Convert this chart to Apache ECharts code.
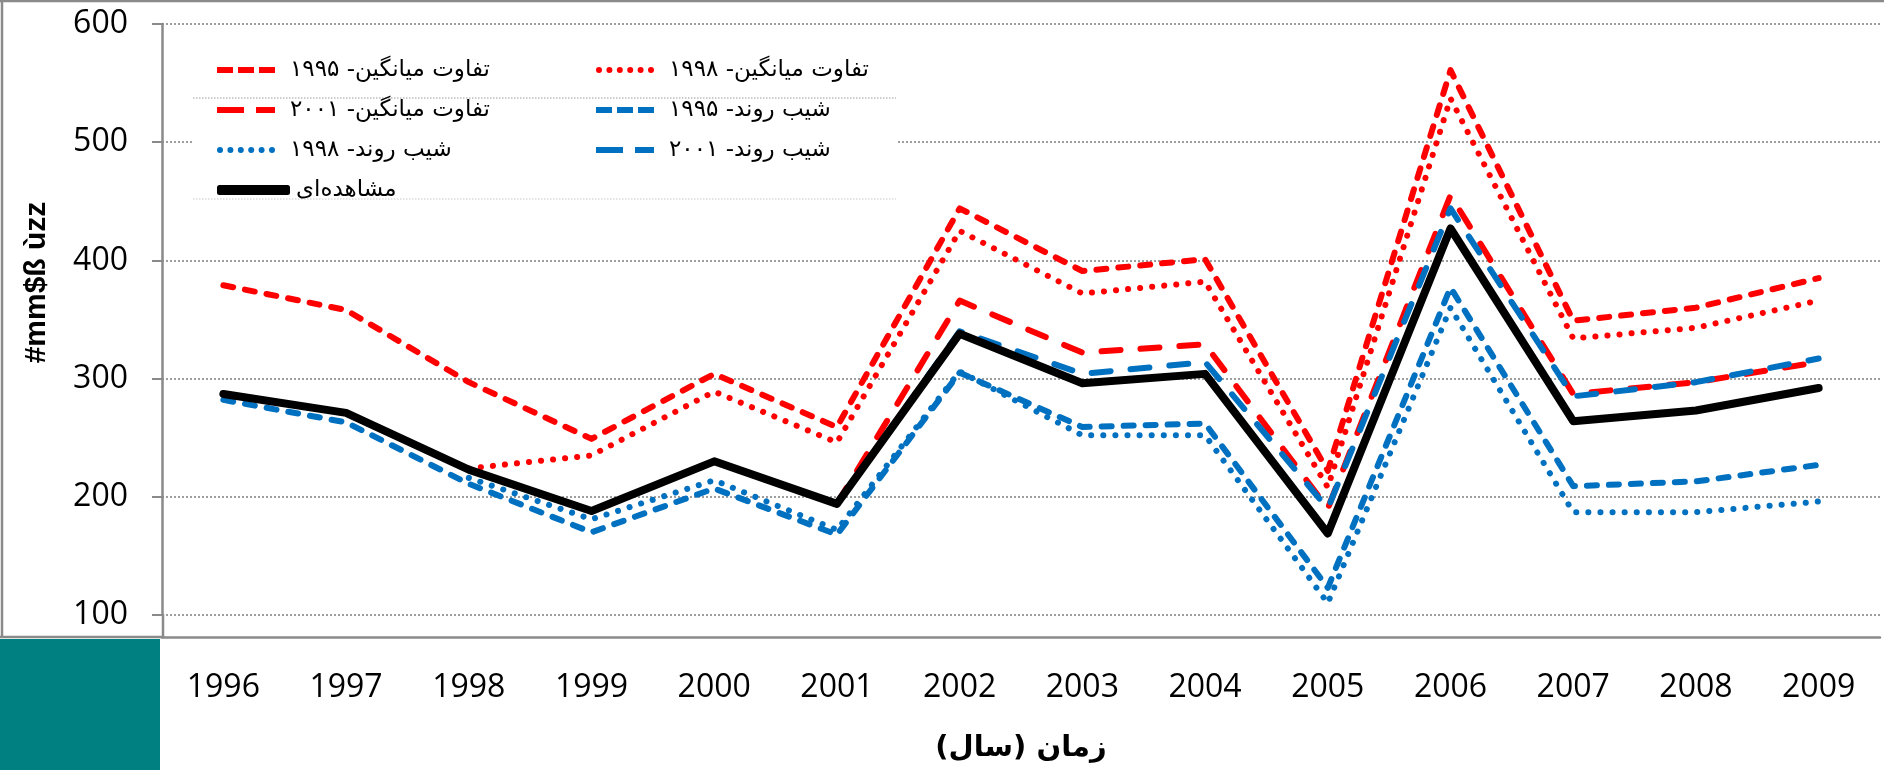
<!DOCTYPE html>
<html>
<head>
<meta charset="utf-8">
<script src="https://cdn.jsdelivr.net/npm/echarts@6/dist/echarts.min.js"></script>
<style>
  html, body { margin: 0; padding: 0; background: #fff; }
  #chart { width: 1884px; height: 770px; }
</style>
</head>
<body>
<div id="chart"></div>
<script>
// categories and series values
const years = ['1996', '1997', '1998', '1999', '2000', '2001', '2002', '2003', '2004', '2005', '2006', '2007', '2008', '2009']
const observed     = [287, 271, 223, 188, 230, 194, 338, 296, 304, 169, 427, 264, 273, 292]
const meanDiff1995 = [379, 358, 297, 249, 304, 259, 444, 391, 401, 222, 561, 349, 360, 385]
const meanDiff1998 = [null, null, 224, 235, 289, 246, 425, 372, 382, 208, 537, 334, 343, 366]
const meanDiff2001 = [null, null, null, null, null, 194, 366, 322, 329, 190, 455, 287, 297, 314]
const trend1995    = [282, 263, 211, 170, 207, 168, 305, 259, 262, 123, 377, 209, 213, 227]
const trend1998    = [null, null, 216, 181, 214, 172, 306, 252, 252, 110, 360, 187, 187, 196]
const trend2001    = [null, null, null, null, null, 194, 340, 304, 314, 190, 444, 285, 297, 317]

const seriesNames = [
  'تفاوت میانگین- ۱۹۹۵',
  'تفاوت میانگین- ۱۹۹۸',
  'تفاوت میانگین- ۲۰۰۱',
  'شیب روند- ۱۹۹۵',
  'شیب روند- ۱۹۹۸',
  'شیب روند- ۲۰۰۱',
  'مشاهده‌ای'
]
const xTitle = 'زمان (سال)\u200F'
const yTitle = '#mm$ß ùzz'

const RED = '#ff0000'
const BLUE = '#0070c0'
const GRAY = '#8a8a8a'
const shortDash = [10, 12]
const longDash = [19, 20]
const dots = [0.1, 12]

// legend icons drawn as paths so the dash pattern shows like in the original
const shortDashIcon = 'path://M0,0h16v6h-16z M21,0h16v6h-16z M42,0h16v6h-16z'
const longDashIcon = 'path://M0,0h27v6h-27z M39,0h19v6h-19z'
let dotIcon = 'path://'
for (let i = 0; i < 6; i++) {
  const cx = 3 + i * 10.4
  dotIcon += `M${cx - 3},3a3,3 0 1,0 6,0a3,3 0 1,0 -6,0z `
}

function lineSeries(name, data, color, dash, width) {
  return {
    name: name,
    type: 'line',
    data: data,
    symbol: 'none',
    showSymbol: false,
    lineStyle: { color: color, width: width || 6, type: dash || 'solid', cap: 'round', join: 'round' },
    itemStyle: { color: color }
  }
}

const chart = echarts.init(document.getElementById('chart'))

const legendBase = {
  orient: 'vertical',
  top: 53,
  itemWidth: 58,
  itemHeight: 6,
  itemGap: 16,
  selectedMode: false,
  z: 20,
  itemStyle: { borderWidth: 0 },
  textStyle: { fontFamily: 'DejaVu Sans', fontSize: 23, color: '#000', lineHeight: 24, padding: [0, 0, 0, 10] }
}

const options = {
  animation: false,
  backgroundColor: '#fff',
  grid: { left: 162, right: 4, top: 24, bottom: 155, containLabel: false },
  legend: [
    Object.assign({}, legendBase, {
      left: 212,
      data: [
        { name: seriesNames[0], icon: shortDashIcon },
        { name: seriesNames[2], icon: longDashIcon },
        { name: seriesNames[4], icon: dotIcon }
      ]
    }),
    Object.assign({}, legendBase, {
      left: 591,
      data: [
        { name: seriesNames[1], icon: dotIcon },
        { name: seriesNames[3], icon: shortDashIcon },
        { name: seriesNames[5], icon: longDashIcon }
      ]
    }),
    Object.assign({}, legendBase, {
      left: 212,
      top: 173,
      itemWidth: 73,
      itemHeight: 10,
      textStyle: Object.assign({}, legendBase.textStyle, { padding: [0, 0, 0, 1] }),
      data: [{ name: seriesNames[6], icon: 'roundRect' }]
    })
  ],
  xAxis: {
    type: 'category',
    data: years,
    boundaryGap: true,
    offset: 22,
    name: xTitle,
    nameLocation: 'middle',
    nameGap: 97,
    nameTextStyle: { fontFamily: 'DejaVu Sans', fontWeight: 'bold', fontSize: 29, color: '#000' },
    axisLine: { lineStyle: { color: GRAY, width: 2.5 } },
    axisTick: { length: 12, lineStyle: { color: GRAY, width: 2 } },
    axisLabel: { interval: 0, margin: 35, fontFamily: 'Open Sans', fontSize: 32, color: '#000' },
    splitLine: { show: false }
  },
  yAxis: {
    type: 'value',
    min: 100,
    max: 600,
    interval: 100,
    name: yTitle,
    nameLocation: 'middle',
    nameGap: 110,
    nameTextStyle: { fontFamily: 'Liberation Sans', fontWeight: 'bold', fontSize: 30, color: '#000', padding: [0, 0, 0, 74] },
    axisLine: { show: true, lineStyle: { color: GRAY, width: 2.5 } },
    axisTick: { show: true, length: 10, lineStyle: { color: GRAY, width: 2 } },
    axisLabel: { margin: 34, fontFamily: 'Open Sans', fontSize: 32, color: '#000' },
    splitLine: { show: true, lineStyle: { color: '#7f7f7f', width: 1.5, type: [2, 2] } }
  },
  graphic: [
    // frame of the original picture and the teal block in the corner
    { type: 'line', z: 5, shape: { x1: 0, y1: 1, x2: 1884, y2: 1 }, style: { stroke: GRAY, lineWidth: 2.5 } },
    { type: 'line', z: 5, shape: { x1: 2, y1: 0, x2: 2, y2: 637 }, style: { stroke: GRAY, lineWidth: 2.5 } },
    { type: 'line', z: 5, shape: { x1: 0, y1: 637, x2: 163, y2: 637 }, style: { stroke: GRAY, lineWidth: 2.5 } },
    { type: 'line', z: 5, shape: { x1: 163, y1: 614, x2: 163, y2: 637 }, style: { stroke: GRAY, lineWidth: 2.5 } },
    { type: 'rect', z: 5, shape: { x: 0, y: 639, width: 160, height: 131 }, style: { fill: '#008080' } },
    // legend box leftovers
    { type: 'rect', z: 5, shape: { x: 193, y: 132, width: 703, height: 18 }, style: { fill: '#fff' } },
    { type: 'line', z: 6, shape: { x1: 193, y1: 98, x2: 896, y2: 98 }, style: { stroke: '#9a9a9a', lineWidth: 1, lineDash: [1.5, 1.5] } },
    { type: 'line', z: 6, shape: { x1: 193, y1: 199, x2: 896, y2: 199 }, style: { stroke: '#c8c8c8', lineWidth: 1, lineDash: [1.5, 1.5] } }
  ],
  series: [
    lineSeries(seriesNames[0], meanDiff1995, RED, shortDash),
    lineSeries(seriesNames[1], meanDiff1998, RED, dots),
    lineSeries(seriesNames[2], meanDiff2001, RED, longDash),
    lineSeries(seriesNames[3], trend1995, BLUE, shortDash),
    lineSeries(seriesNames[4], trend1998, BLUE, dots),
    lineSeries(seriesNames[5], trend2001, BLUE, longDash),
    lineSeries(seriesNames[6], observed, '#000', 'solid', 8)
  ]
}

chart.setOption(options)
</script>
</body>
</html>
